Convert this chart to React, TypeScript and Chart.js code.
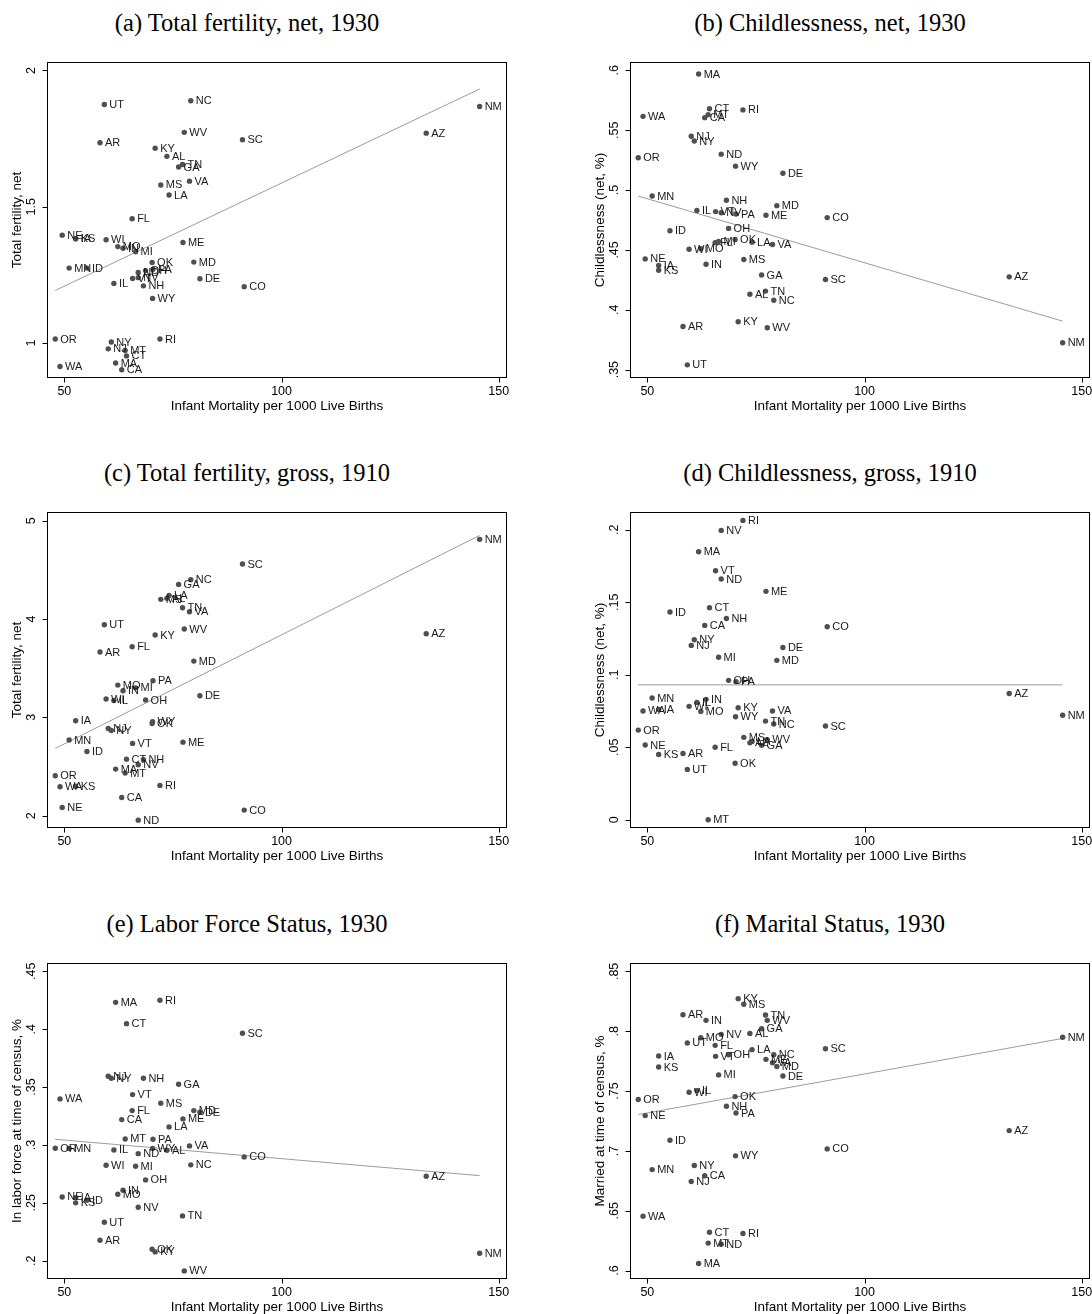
import React, { useEffect, useRef } from 'react';
import { Chart, registerables } from 'chart.js';

Chart.register(...registerables);

// ---------------- data ----------------
const states = ['AL','AZ','AR','CA','CO','CT','DE','FL','GA','ID','IL','IN','IA','KS','KY','LA','ME','MD','MA','MI','MN','MS','MO','MT','NE','NV','NH','NJ','NM','NY','NC','ND','OH','OK','OR','PA','RI','SC','TN','UT','VT','VA','WA','WV','WI','WY'];

const infantMortality = [73.6,133.3,58.2,63.2,91.4,64.3,81.2,65.6,76.3,55.2,61.4,63.5,52.6,52.6,70.9,74.1,77.3,79.8,61.8,66.4,51.1,72.2,62.3,64.0,49.5,67.0,68.2,60.1,145.6,60.8,79.1,67.0,68.7,70.2,47.9,70.4,72.0,91.0,77.2,59.2,65.7,78.8,49.0,77.6,59.6,70.3];

const fertilityNet1930 = [1.685,1.770,1.735,0.902,1.207,0.953,1.236,1.456,1.646,1.275,1.219,1.348,1.383,1.383,1.715,1.543,1.369,1.297,0.927,1.335,1.275,1.580,1.354,0.973,1.396,1.240,1.210,0.979,1.868,1.004,1.889,1.259,1.266,1.296,1.015,1.271,1.015,1.746,1.655,1.875,1.237,1.594,0.914,1.773,1.379,1.164];

const childlessNet1930 = [0.413,0.4275,0.386,0.5605,0.477,0.568,0.514,0.456,0.429,0.466,0.483,0.438,0.437,0.433,0.390,0.4565,0.479,0.487,0.597,0.457,0.495,0.442,0.451,0.563,0.4425,0.481,0.4915,0.545,0.3724,0.541,0.408,0.530,0.468,0.4587,0.527,0.480,0.567,0.4253,0.4156,0.354,0.482,0.4545,0.5616,0.385,0.4506,0.520];

const fertilityGross1910 = [4.21,3.85,3.664,2.185,2.057,2.575,3.220,3.718,4.352,2.653,3.172,3.271,2.965,2.30,3.837,4.24,2.748,3.572,2.474,3.30,2.769,4.20,3.328,2.433,2.084,2.518,2.569,2.887,4.81,2.867,4.400,1.955,3.176,2.938,2.406,3.372,2.308,4.559,4.115,3.942,2.735,4.074,2.294,3.898,3.186,2.955];

const childlessGross1910 = [0.053,0.087,0.0457,0.134,0.1331,0.1462,0.1188,0.050,0.0513,0.1432,0.0809,0.083,0.076,0.045,0.0772,0.054,0.1575,0.1099,0.1848,0.112,0.0839,0.0568,0.0747,0.000,0.0515,0.1995,0.1388,0.1202,0.072,0.1241,0.066,0.166,0.0961,0.0389,0.0618,0.0952,0.2064,0.0646,0.068,0.0347,0.1717,0.075,0.075,0.0552,0.0782,0.071];

const laborForce1930 = [0.2954,0.273,0.2177,0.3219,0.2897,0.4048,0.3282,0.3297,0.3524,0.2522,0.2957,0.2609,0.2545,0.250,0.2076,0.3156,0.3225,0.3297,0.4232,0.2816,0.297,0.336,0.2574,0.3052,0.2551,0.2462,0.3576,0.3593,0.2065,0.3576,0.2828,0.2925,0.2698,0.2099,0.2972,0.3049,0.425,0.3965,0.2387,0.2332,0.3435,0.2992,0.3398,0.1912,0.2825,0.2969];

const married1930 = [0.7982,0.717,0.8138,0.6792,0.7017,0.6321,0.7626,0.7882,0.8021,0.7089,0.7504,0.8091,0.7793,0.7701,0.8272,0.7846,0.7765,0.7705,0.606,0.7635,0.6844,0.8225,0.7946,0.623,0.7295,0.7974,0.7373,0.6744,0.795,0.6878,0.7804,0.6221,0.7804,0.7454,0.7429,0.7317,0.631,0.7854,0.8135,0.7902,0.779,0.7737,0.6455,0.8091,0.749,0.6959];

// fitted-line values at the ends of the x range [fitX[0], fitX[1]]
const fitX = [47.9, 145.6];
const fitA = [1.193, 1.932];
const fitB = [0.495, 0.3905];
const fitC = [2.684, 4.85];
const fitD = [0.093, 0.093];
const fitE = [0.3049, 0.2735];
const fitF = [0.7304, 0.794];

const xTicks = [50, 100, 150];
const xTickLabels = ['50', '100', '150'];
const xTitle = 'Infant Mortality per 1000 Live Births';

const yTicksA = [1, 1.5, 2];
const yLabelsA = ['1', '1.5', '2'];
const yTicksB = [0.35, 0.4, 0.45, 0.5, 0.55, 0.6];
const yLabelsB = ['.35', '.4', '.45', '.5', '.55', '.6'];
const yTicksC = [2, 3, 4, 5];
const yLabelsC = ['2', '3', '4', '5'];
const yTicksD = [0, 0.05, 0.1, 0.15, 0.2];
const yLabelsD = ['0', '.05', '.1', '.15', '.2'];
const yTicksE = [0.2, 0.25, 0.3, 0.35, 0.4, 0.45];
const yLabelsE = ['.2', '.25', '.3', '.35', '.4', '.45'];
const yTicksF = [0.6, 0.65, 0.7, 0.75, 0.8, 0.85];
const yLabelsF = ['.6', '.65', '.7', '.75', '.8', '.85'];

const titles = [
  '(a) Total fertility, net, 1930',
  '(b) Childlessness, net, 1930',
  '(c) Total fertility, gross, 1910',
  '(d) Childlessness, gross, 1910',
  '(e) Labor Force Status, 1930',
  '(f) Marital Status, 1930',
];
const yTitles = [
  'Total fertility, net',
  'Childlessness (net, %)',
  'Total fertility, net',
  'Childlessness (net, %)',
  'In labor force at time of census, %',
  'Married at time of census, %',
];

// ---------------- layout ----------------
const X_MIN = 46.0;
const X_MAX = 151.9;
const FRAME_W = 460;
const FRAME_H = 316;
const COL_FRAME_LEFT = [47, 630];
const ROW_FRAME_TOP = [62, 512, 963];
const PAD = { left: 47, right: 3, top: 12, bottom: 46 };
const CANVAS_W = PAD.left + FRAME_W + PAD.right;
const CANVAS_H = PAD.top + FRAME_H + PAD.bottom;
const TITLE_SIZE = 24.5;

const SANS = '"Liberation Sans", Arial, Helvetica, sans-serif';
const SERIF = '"Liberation Serif", "Times New Roman", serif';

type PanelSpec = {
  title: string;
  yTitle: string;
  values: number[];
  fit: number[];
  yMin: number;
  yMax: number;
  yTicks: number[];
  yLabels: string[];
};

const panels: PanelSpec[] = [
  { title: titles[0], yTitle: yTitles[0], values: fertilityNet1930, fit: fitA, yMin: 0.872, yMax: 2.031, yTicks: yTicksA, yLabels: yLabelsA },
  { title: titles[1], yTitle: yTitles[1], values: childlessNet1930, fit: fitB, yMin: 0.343, yMax: 0.607, yTicks: yTicksB, yLabels: yLabelsB },
  { title: titles[2], yTitle: yTitles[2], values: fertilityGross1910, fit: fitC, yMin: 1.875, yMax: 5.088, yTicks: yTicksC, yLabels: yLabelsC },
  { title: titles[3], yTitle: yTitles[3], values: childlessGross1910, fit: fitD, yMin: -0.0057, yMax: 0.2122, yTicks: yTicksD, yLabels: yLabelsD },
  { title: titles[4], yTitle: yTitles[4], values: laborForce1930, fit: fitE, yMin: 0.1842, yMax: 0.4572, yTicks: yTicksE, yLabels: yLabelsE },
  { title: titles[5], yTitle: yTitles[5], values: married1930, fit: fitF, yMin: 0.593, yMax: 0.857, yTicks: yTicksF, yLabels: yLabelsF },
];

function makeDecorPlugin(spec: PanelSpec) {
  return {
    id: 'stataDecor',
    afterDatasetsDraw(chart: any) {
      const ctx = chart.ctx as CanvasRenderingContext2D;
      const area = chart.chartArea;
      const xs = chart.scales.x;
      const ys = chart.scales.y;

      // point labels
      const meta = chart.getDatasetMeta(0);
      ctx.save();
      ctx.font = '11px ' + SANS;
      ctx.fillStyle = '#1a1a1a';
      ctx.textAlign = 'left';
      ctx.textBaseline = 'middle';
      meta.data.forEach((el: any, i: number) => {
        ctx.fillText(states[i], el.x + 5, el.y + 0.5);
      });
      ctx.restore();

      // frame
      ctx.save();
      ctx.strokeStyle = '#000';
      ctx.lineWidth = 1;
      const L = Math.round(area.left) + 0.5;
      const R = Math.round(area.right) - 0.5;
      const T = Math.round(area.top) + 0.5;
      const B = Math.round(area.bottom) - 0.5;
      ctx.strokeRect(L, T, R - L, B - T);

      // x ticks
      ctx.beginPath();
      xTicks.forEach((v) => {
        const px = Math.round(xs.getPixelForValue(v)) + 0.5;
        ctx.moveTo(px, B);
        ctx.lineTo(px, B + 5);
      });
      // y ticks
      spec.yTicks.forEach((v) => {
        const py = Math.round(ys.getPixelForValue(v)) + 0.5;
        ctx.moveTo(L, py);
        ctx.lineTo(L - 5, py);
      });
      ctx.stroke();

      ctx.fillStyle = '#000';
      ctx.font = '12.5px ' + SANS;
      ctx.textAlign = 'center';
      ctx.textBaseline = 'middle';
      xTicks.forEach((v, i) => {
        ctx.fillText(xTickLabels[i], xs.getPixelForValue(v), B + 14);
      });
      ctx.font = '13.5px ' + SANS;
      ctx.fillText(xTitle, (area.left + area.right) / 2, B + 28.5);

      // y tick labels (rotated)
      ctx.font = '12.5px ' + SANS;
      spec.yTicks.forEach((v, i) => {
        const py = ys.getPixelForValue(v);
        ctx.save();
        ctx.translate(L - 13, py);
        ctx.rotate(-Math.PI / 2);
        ctx.textAlign = 'center';
        ctx.textBaseline = 'alphabetic';
        ctx.fillText(spec.yLabels[i], 0, 0);
        ctx.restore();
      });
      // y title
      ctx.save();
      ctx.translate(L - 30, (area.top + area.bottom) / 2);
      ctx.rotate(-Math.PI / 2);
      ctx.textAlign = 'center';
      ctx.textBaseline = 'middle';
      ctx.font = '13.5px ' + SANS;
      ctx.fillText(spec.yTitle, 0, 0);
      ctx.restore();
      ctx.restore();
    },
  };
}

function Panel({ spec, col, row }: { spec: PanelSpec; col: number; row: number }) {
  const ref = useRef<HTMLCanvasElement | null>(null);
  useEffect(() => {
    if (!ref.current) return;
    const points = infantMortality.map((x, i) => ({ x, y: spec.values[i] }));
    const line = [
      { x: fitX[0], y: spec.fit[0] },
      { x: fitX[1], y: spec.fit[1] },
    ];
    const chart = new Chart(ref.current, {
      type: 'scatter',
      data: {
        datasets: [
          {
            type: 'scatter',
            data: points,
            pointRadius: 2.7,
            pointBackgroundColor: '#4f4f4f',
            pointBorderWidth: 0,
            pointHoverRadius: 2.7,
          } as any,
          {
            type: 'line',
            data: line,
            borderColor: '#9c9c9c',
            borderWidth: 1,
            pointRadius: 0,
            fill: false,
            tension: 0,
          } as any,
        ],
      },
      options: {
        animation: false,
        responsive: false,
        maintainAspectRatio: false,
        events: [],
        layout: { padding: PAD },
        plugins: { legend: { display: false }, tooltip: { enabled: false }, title: { display: false } },
        scales: {
          x: { type: 'linear', display: false, min: X_MIN, max: X_MAX },
          y: { type: 'linear', display: false, min: spec.yMin, max: spec.yMax },
        },
      } as any,
      plugins: [makeDecorPlugin(spec)],
    });
    return () => chart.destroy();
  }, [spec]);

  const frameLeft = COL_FRAME_LEFT[col];
  const frameTop = ROW_FRAME_TOP[row];
  const titleCenter = frameLeft + FRAME_W / 2 - 30;
  return (
    <>
      <div
        style={{
          position: 'absolute',
          left: titleCenter - 260,
          width: 520,
          top: frameTop - 51,
          textAlign: 'center',
          fontFamily: SERIF,
          fontSize: TITLE_SIZE,
          lineHeight: TITLE_SIZE + 'px',
          color: '#000',
          whiteSpace: 'nowrap',
        }}
      >
        {spec.title}
      </div>
      <canvas
        ref={ref}
        width={CANVAS_W}
        height={CANVAS_H}
        style={{
          position: 'absolute',
          left: frameLeft - PAD.left,
          top: frameTop - PAD.top,
          width: CANVAS_W,
          height: CANVAS_H,
        }}
      />
    </>
  );
}

export default function App() {
  return (
    <div style={{ position: 'absolute', left: 0, top: 0, width: 1092, height: 1314, background: '#fff', overflow: 'hidden' }}>
      {panels.map((p, i) => (
        <Panel key={i} spec={p} col={i % 2} row={Math.floor(i / 2)} />
      ))}
    </div>
  );
}
